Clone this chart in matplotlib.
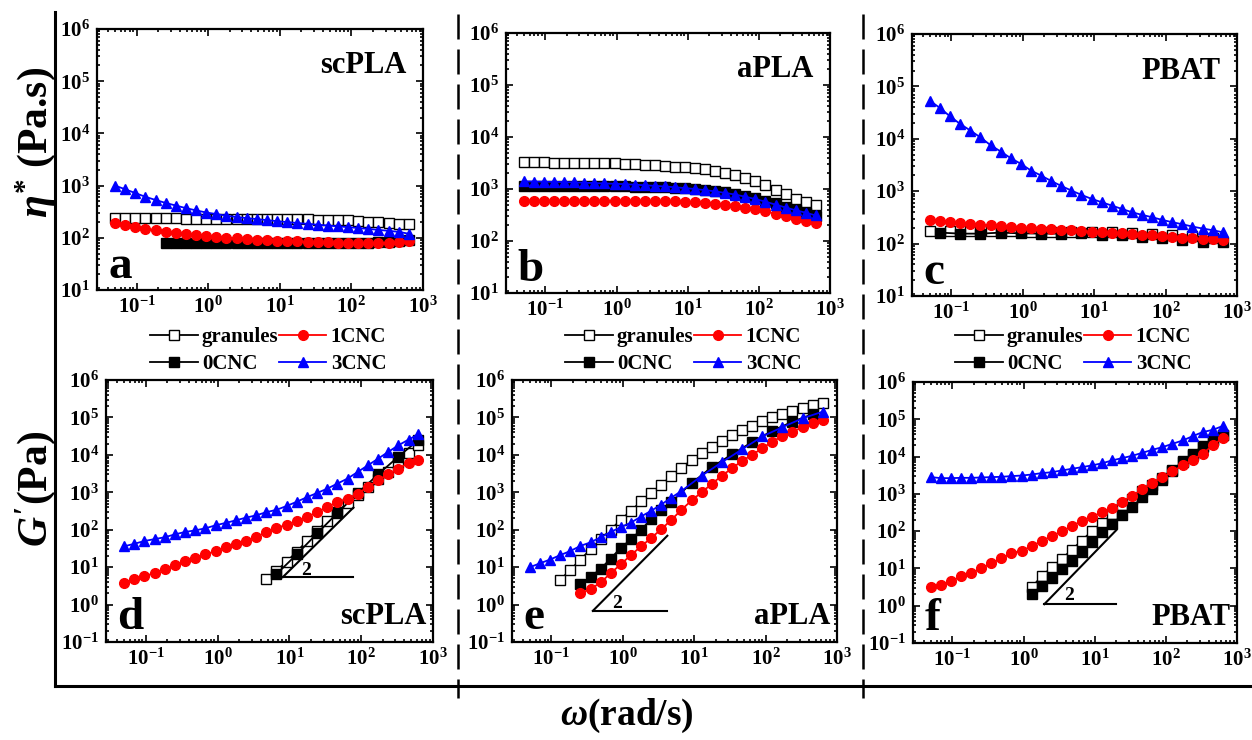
import numpy as np
import matplotlib
matplotlib.use('Agg')
import matplotlib.pyplot as plt
from matplotlib.lines import Line2D
from matplotlib.ticker import FuncFormatter, LogLocator, NullFormatter

plt.rcParams['font.family'] = ['Liberation Serif', 'DejaVu Serif']
plt.rcParams['font.weight'] = 'bold'
plt.rcParams['mathtext.fontset'] = 'custom'
plt.rcParams['mathtext.rm'] = 'Liberation Serif:bold'
plt.rcParams['mathtext.bf'] = 'Liberation Serif:bold'
plt.rcParams['mathtext.it'] = 'Liberation Serif:italic:bold'

# angular frequency (rad/s)
w = [0.05, 0.0693, 0.0959, 0.133, 0.184, 0.255, 0.353, 0.489, 0.677, 0.938,
     1.30, 1.80, 2.49, 3.45, 4.78, 6.62, 9.17, 12.7, 17.6, 24.4,
     33.7, 46.7, 64.7, 89.6, 124, 172, 238, 330, 457, 628]

# ---- complex viscosity (Pa.s) ----
# a: scPLA
gran_a = [240, 238, 238, 236, 236, 235, 235, 234, 233, 232, 232, 231, 230, 230, 229,
          228, 228, 227, 226, 225, 224, 222, 220, 216, 210, 204, 198, 192, 186, 180]
zero_a = [80, 80, 80, 80, 80, 80, 80, 80, 80, 80, 80, 80, 80, 80, 80,
          80, 80, 80, 80, 80, 81, 82, 84, 86, 90]
one_a = [195, 175, 160, 150, 140, 132, 125, 118, 112, 107, 103, 100, 97, 95, 92,
         90, 88, 86, 85, 84, 83, 82, 81, 80, 80, 80, 80, 81, 83, 85]
three_a = [1000, 850, 720, 610, 530, 465, 415, 370, 335, 305, 285, 265, 250, 238, 228,
           218, 208, 200, 192, 185, 178, 172, 166, 160, 154, 148, 142, 136, 130, 120]
# b: aPLA
gran_b = [3250, 3250, 3240, 3230, 3220, 3200, 3180, 3160, 3130, 3100, 3060, 3010, 2950, 2880, 2800,
          2700, 2600, 2500, 2380, 2200, 2000, 1850, 1650, 1420, 1200, 960, 800, 650, 560, 500]
zero_b = [1150, 1150, 1150, 1150, 1150, 1150, 1150, 1140, 1140, 1130, 1120, 1110, 1100, 1090, 1070,
          1050, 1030, 1000, 960, 920, 870, 810, 740, 670, 600, 530, 460, 400, 350, 300]
one_b = [600, 600, 600, 600, 600, 600, 600, 600, 600, 600, 600, 600, 595, 590, 585,
         580, 570, 555, 540, 520, 495, 470, 440, 405, 370, 335, 300, 270, 245, 225]
three_b = [1400, 1390, 1380, 1370, 1360, 1340, 1320, 1300, 1280, 1260, 1240, 1210, 1180, 1150, 1120,
           1080, 1040, 1000, 950, 900, 840, 780, 710, 640, 570, 500, 440, 390, 350, 310]
# c: PBAT
gran_c = [175, 174, 173, 172, 171, 170, 169, 168, 166, 164, 160, 155, 148, 140, 130]
zero_c = [162, 155, 155, 162, 157, 155, 155, 162, 146, 146, 134, 130, 117, 109, 109]
one_c = [280, 265, 255, 245, 238, 230, 222, 215, 208, 200, 195, 190, 186, 182, 178,
         174, 168, 164, 160, 156, 152, 148, 143, 137, 133, 129, 126, 122, 120, 118]
three_c = [53200, 38500, 26700, 19100, 14400, 10600, 7560, 5720, 4270, 3330, 2480, 1990, 1570, 1260, 1030,
           851, 714, 617, 532, 459, 397, 353, 319, 283, 256, 234, 211, 194, 180, 165]

# ---- storage modulus (Pa) ----
# d: scPLA
gran_d = [4.8, 8, 14, 26, 50, 95, 170, 300, 520, 850, 1400, 2200, 3500, 6000, 11000, 18000]
zero_d = [6.5, 22, 80, 280, 950, 3000, 9000, 25000]
one_d = [3.7, 4.9, 5.7, 7.0, 9.0, 11.1, 14.2, 17.1, 21.8, 26.8, 34, 42, 50, 64, 87,
         111, 136, 171, 218, 297, 405, 551, 677, 921, 1390, 2100, 3030, 4300, 6100, 7500]
three_d = [36, 42, 50, 56, 63, 75, 87, 96, 109, 131, 152, 178, 210, 242, 294,
           340, 430, 560, 740, 960, 1250, 1710, 2330, 3500, 5250, 7900, 12000, 18000, 25600, 35500]
# e: aPLA
gran_e = [4.6, 8.5, 16, 30, 55, 100, 185, 320, 570, 950, 1600, 2700, 4500, 7300,
          11000, 16000, 24000, 33000, 45000, 60000, 80000, 100000, 125000, 150000, 180000, 210000, 240000]
zero_e = [3.5, 5.5, 9, 17, 33, 55, 100, 190, 330, 560,
          1750, 4700, 10300, 22000, 44000, 77000, 123000]
one_e = [2.0, 2.6, 3.9, 6.9, 12, 21, 36, 60, 103, 183, 340, 605, 1000, 1670, 2780,
         4350, 6900, 10000, 15000, 22500, 31700, 41500, 55000, 70000, 86000]
three_e = [10, 12.7, 16, 21, 27, 37, 46, 63, 87, 117, 155, 225, 320, 470, 720, 1080,
           2760, 6350, 14000, 31000, 55000, 95000, 142000]
# f: PBAT
gran_f = [3.1, 6.2, 10.7, 18, 32, 56, 102, 166, 285, 490, 740, 1180, 1740, 2600, 4250,
          7400, 12000, 19000, 27000, 38500]
zero_f = [2.1, 3.3, 5.4, 9.8, 16, 28, 50, 94, 158, 265, 440, 810, 1370, 2300, 4000,
          7100, 10700, 17800, 27000, 37000]
one_f = [3.25, 3.6, 4.5, 6.2, 7.4, 10.1, 13.7, 18.7, 25.5, 30, 39, 55, 73, 100, 135,
         192, 245, 320, 420, 620, 900, 1320, 2000, 2800, 4000, 5800, 8200, 12000, 20000, 31500]
three_f = [2810, 2640, 2640, 2690, 2690, 2750, 2810, 2870, 2990, 3100, 3300, 3600, 3800, 4250, 4700,
           5200, 5800, 6600, 7900, 9100, 10500, 12600, 15200, 17900, 22000, 27000, 35200, 45500, 52000, 66000]

# slope-2 guide triangles: (corner x, top x, corner y, top y, label x, label y)
slope_d = [8.1, 78, 5.4, 390, 17, 8]
slope_e = [0.38, 4.2, 0.68, 69, 0.82, 1.04]
slope_f = [1.96, 20, 1.1, 105, 4.4, 1.86]

labels = ['granules', '0CNC', '1CNC', '3CNC']
W, H = 1252, 740

fig = plt.figure(figsize=(W / 100, H / 100), dpi=100)


def box(l, r, t, b):
    return [l / W, 1 - b / H, (r - l) / W, (b - t) / H]


def fmt(v, pos):
    return r'$\mathbf{10^{%d}}$' % int(round(np.log10(v)))


def style(ax, ylo):
    ax.set_xscale('log')
    ax.set_yscale('log')
    ax.set_xlim(0.028, 1000)
    ax.set_ylim(ylo, 1e6)
    ax.xaxis.set_major_locator(LogLocator(base=10, numticks=20))
    ax.yaxis.set_major_locator(LogLocator(base=10, numticks=20))
    ax.xaxis.set_minor_locator(LogLocator(base=10, subs=np.arange(2, 10), numticks=20))
    ax.yaxis.set_minor_locator(LogLocator(base=10, subs=np.arange(2, 10), numticks=20))
    ax.xaxis.set_major_formatter(FuncFormatter(fmt))
    ax.yaxis.set_major_formatter(FuncFormatter(fmt))
    ax.xaxis.set_minor_formatter(NullFormatter())
    ax.yaxis.set_minor_formatter(NullFormatter())
    ax.tick_params(which='both', direction='in', top=True, right=True, labelsize=15, width=1.2)
    ax.tick_params(which='major', length=5, pad=5)
    ax.tick_params(which='minor', length=2.5)
    for s in ax.spines.values():
        s.set_linewidth(1.6)


def series(ax, data):
    hs = []
    (xg, yg), (x0, y0), (x1, y1), (x3, y3) = data
    hs.append(ax.plot(xg, yg, color='black', marker='s', mfc='white', mec='black', ms=6.5, lw=1.3)[0])
    hs.append(ax.plot(x0, y0, color='black', marker='s', mfc='black', mec='black', ms=6.5, lw=1.3)[0])
    hs.append(ax.plot(x1, y1, color='red', marker='o', mfc='red', mec='red', ms=7, lw=1.3)[0])
    hs.append(ax.plot(x3, y3, color='blue', marker='^', mfc='blue', mec='blue', ms=7.5, lw=1.3)[0])
    return hs


def slope(ax, s):
    x0, x1, y0, y1, tx, ty = s
    ax.plot([x0, x1], [y0, y1], color='black', lw=1.5)
    ax.plot([x0, x1], [y0, y0], color='black', lw=1.5)
    ax.text(tx, ty, '2', fontsize=14, fontweight='bold', ha='center', va='center')


top_boxes = [box(97, 423, 29, 290), box(506, 830, 33, 293), box(912, 1237, 34, 296)]
bot_boxes = [box(106, 433, 380, 642), box(512, 837, 380, 642), box(913, 1237, 382, 643)]

top_data = [
    [(w, gran_a), (w[5:], zero_a), (w, one_a), (w, three_a)],
    [(w, gran_b), (w, zero_b), (w, one_b), (w, three_b)],
    [(w[0::2], gran_c), (w[1::2], zero_c), (w, one_c), (w, three_c)],
]
bot_data = [
    [(w[14:], gran_d), (w[15::2], zero_d), (w, one_d), (w, three_d)],
    [(w[3:], gran_e), (w[5:15] + w[16::2], zero_e), (w[5:], one_e), (w[:16] + w[17::2], three_e)],
    [(w[10:], gran_f), (w[10:], zero_f), (w, one_f), (w, three_f)],
]
names = ['scPLA', 'aPLA', 'PBAT']
letters_top = ['a', 'b', 'c']
letters_bot = ['d', 'e', 'f']
leg_cx = [268, 683, 1073]
slopes = [slope_d, slope_e, slope_f]

for i in range(3):
    ax = fig.add_axes(top_boxes[i])
    style(ax, 10)
    hs = series(ax, top_data[i])
    ax.text(0.95, 0.83, names[i], transform=ax.transAxes, fontsize=22, fontweight='bold',
            ha='right', va='baseline')
    ax.text(0.035, 0.045, letters_top[i], transform=ax.transAxes, fontsize=34, fontweight='bold',
            ha='left', va='baseline')
    ax.legend(hs, labels, loc='upper center', bbox_to_anchor=(leg_cx[i] / W, 1 - 327 / H),
              bbox_transform=fig.transFigure, ncol=2, frameon=False, fontsize=15,
              handlelength=2.3, handletextpad=0.2, columnspacing=0.0, labelspacing=0.35,
              borderpad=0, borderaxespad=0)

    ax = fig.add_axes(bot_boxes[i])
    style(ax, 0.1)
    series(ax, bot_data[i])
    slope(ax, slopes[i])
    ax.text(0.98, 0.07, names[i], transform=ax.transAxes, fontsize=22, fontweight='bold',
            ha='right', va='baseline')
    ax.text(0.035, 0.05, letters_bot[i], transform=ax.transAxes, fontsize=34, fontweight='bold',
            ha='left', va='baseline')

# frame lines and separators
fig.add_artist(Line2D([55 / W, 55 / W], [1 - 12 / H, 1 - 686 / H], color='black', lw=2.2))
fig.add_artist(Line2D([55 / W, 1.0], [1 - 686 / H, 1 - 686 / H], color='black', lw=2.2))
for xs in [458, 863]:
    fig.add_artist(Line2D([xs / W, xs / W], [1 - 14 / H, 1 - 698 / H], color='black', lw=1.8,
                          ls=(0, (10, 4))))

fig.text(36 / W, 1 - 142 / H, r'$\eta^{*}$ (Pa.s)', rotation=90, fontsize=30, fontweight='bold',
         ha='center', va='center')
fig.text(36 / W, 1 - 489 / H, r"$G'$(Pa)", rotation=90, fontsize=30, fontweight='bold',
         ha='center', va='center')
fig.text(627 / W, 1 - 716 / H, r'$\omega$(rad/s)', fontsize=27, fontweight='bold',
         ha='center', va='center')

fig.savefig('out.png', dpi=100)
